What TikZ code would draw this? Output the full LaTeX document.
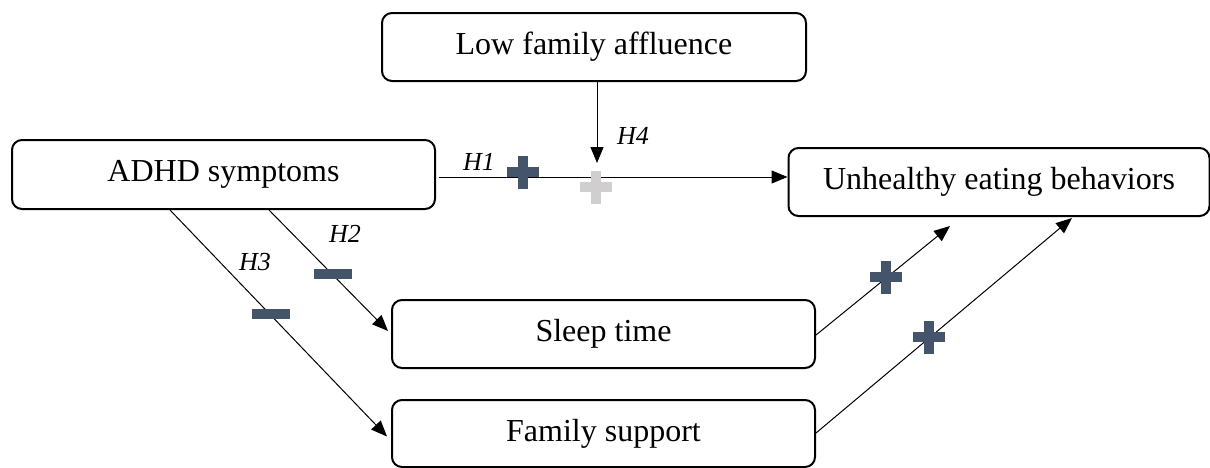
\documentclass[tikz,border=0pt]{standalone}
\usepackage{fontspec}
\setmainfont{Liberation Serif}
\usetikzlibrary{calc,arrows.meta}
\definecolor{signdark}{HTML}{44546A}
\definecolor{signlight}{HTML}{D0CECE}
\tikzset{
  box/.style={draw=black, line width=1pt, rounded corners=5pt, fill=white,
    inner sep=0pt, font=\fontsize{16}{19}\selectfont},
  arr/.style={line width=0.5pt, -{Triangle[length=8pt,width=6.5pt]}},
  hlab/.style={font=\fontsize{13}{15}\selectfont\itshape, inner sep=0pt},
  plusmark/.pic={\path[pic actions] (-16,-5) rectangle (16,5);
                 \path[pic actions] (-5,-16.5) rectangle (5,16.5);},
  minusmark/.pic={\path[pic actions] (-19,-5) rectangle (19,5);}
}
\begin{document}
\begin{tikzpicture}[x=0.5pt,y=-0.5pt]
\useasboundingbox (0,0) rectangle (1210,467);
% boxes
\node[box, minimum width=212pt, minimum height=34pt] (low) at (594,47) {Low family affluence};
\node[box, minimum width=211.5pt, minimum height=34.5pt] (adhd) at (223.5,174.5) {ADHD symptoms};
\node[box, minimum width=210.5pt, minimum height=34pt] (unh) at (999,182) {Unhealthy eating behaviors};
\node[box, minimum width=211.5pt, minimum height=34pt] (sleep) at (603.5,334) {Sleep time};
\node[box, minimum width=211.5pt, minimum height=33.5pt] (fam) at (603.5,433.5) {Family support};
% free ends
\coordinate (h1s) at ($(adhd.east)+(3,2.5)$);
\coordinate (h4e) at (597,163);
\coordinate (h2s) at ($(adhd.south west)+(258,0)$);
\coordinate (h3s) at ($(adhd.south west)+(159,0)$);
\coordinate (s2e) at (950,226);
\coordinate (f2e) at (1072,218);
% connectors
\draw[arr] (h1s) -- (h1s -| unh.west);
\draw[arr] ([xshift=1.5pt]low.south) -- (h4e);
\draw[arr] (h2s) -- ($(sleep.west)+(-3,-3)$);
\draw[arr] (h3s) -- ($(fam.west)+(-4,3)$);
\draw[arr] ($(sleep.east)+(0,1)$) -- (s2e);
\draw[arr] ($(fam.east)+(0,-0.5)$) -- (f2e);
% labels
\node[hlab] (l1) at (479,162) {H1};
\node[hlab] (l4) at (633,136) {H4};
\node[hlab] (l2) at (345,234) {H2};
\node[hlab] (l3) at (255,262) {H3};
% signs
\pic[fill=signdark] at (523,172) {plusmark};
\pic[fill=signlight] at (596,187) {plusmark};
\pic[fill=signdark] at (333,274) {minusmark};
\pic[fill=signdark] at (271,314) {minusmark};
\pic[fill=signdark] at (886,277) {plusmark};
\pic[fill=signdark] at (929,337) {plusmark};
\end{tikzpicture}
\end{document}
